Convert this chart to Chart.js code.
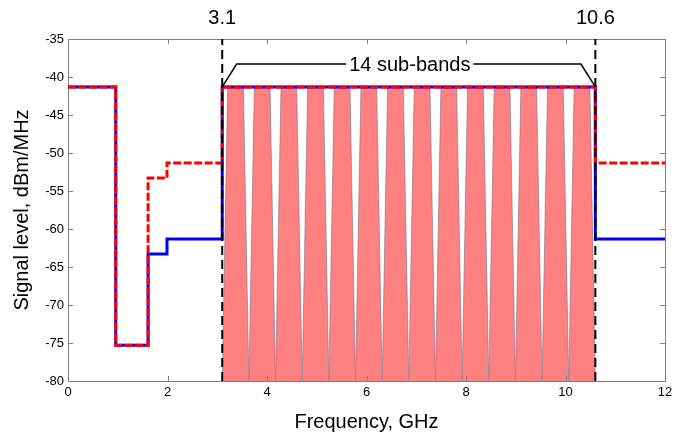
<!DOCTYPE html>
<html>
<head>
<meta charset="utf-8">
<script src="https://cdn.jsdelivr.net/npm/chart.js@4.4.1/dist/chart.umd.min.js"></script>
<style>
body { margin: 0; background: #fff; }
#wrap { width: 674px; height: 436px; }
</style>
</head>
<body>
<div id="wrap"><canvas id="uwbChart"></canvas></div>
<script>
// FCC UWB masks (dBm/MHz) - edges in GHz, one level per segment
var maskEdges = [0, 0.96, 1.61, 1.99, 3.1, 10.6, 12];
var outdoorLevels = [-41.3, -75.3, -63.3, -61.3, -41.3, -61.3];
var indoorLevels = [-41.3, -75.3, -53.3, -51.3, -41.3, -51.3];

// sub-bands between the two markers
var bandStart = 3.1;
var bandEnd = 10.6;
var bandCount = 14;
var bandTopLevel = -41.3;
var bandTopInset = 0.11;

// bracket over the sub-bands
var bracketX = [3.1, 3.39, 10.31, 10.6];
var bracketY = [-41.3, -38.3, -38.3, -41.3];
var bracketLabel = '14 sub-bands';
var bracketLabelX = 6.87;

var markerFreqs = [3.1, 10.6];
var markerLabels = ['3.1', '10.6'];

var xMin = 0, xMax = 12, xStep = 2;
var yMin = -80, yMax = -35, yStep = 5;

var fontFamily = "Arial, 'Liberation Sans', sans-serif";

function stepPoints(edges, levels) {
  var pts = [];
  for (var i = 0; i < levels.length; i++) {
    pts.push({x: edges[i], y: levels[i]});
  }
  pts.push({x: edges[edges.length - 1], y: levels[levels.length - 1]});
  return pts;
}

var datasets = [];

// pink sub-band trapezoids
var bandWidth = (bandEnd - bandStart) / bandCount;
for (var k = 0; k < bandCount; k++) {
  var x0 = bandStart + k * bandWidth;
  var x1 = x0 + bandWidth;
  datasets.push({
    data: [
      {x: x0, y: yMin},
      {x: x0 + bandTopInset, y: bandTopLevel},
      {x: x1 - bandTopInset, y: bandTopLevel},
      {x: x1, y: yMin}
    ],
    showLine: true,
    fill: 'start',
    backgroundColor: '#ff8080',
    borderColor: 'rgba(110,110,135,0.7)',
    borderWidth: 0.8,
    pointRadius: 0,
    order: 10
  });
}

datasets.push({
  label: 'Outdoor',
  data: stepPoints(maskEdges, outdoorLevels),
  showLine: true,
  stepped: true,
  borderColor: '#0000ff',
  borderWidth: 3,
  pointRadius: 0,
  fill: false,
  order: 5
});

datasets.push({
  label: 'Indoor',
  data: stepPoints(maskEdges, indoorLevels),
  showLine: true,
  stepped: true,
  borderColor: '#ff0000',
  borderWidth: 3,
  borderDash: [8, 2.5],
  pointRadius: 0,
  fill: false,
  order: 4
});

markerFreqs.forEach(function (f) {
  datasets.push({
    data: [{x: f, y: yMin}, {x: f, y: yMax}],
    showLine: true,
    borderColor: '#000',
    borderWidth: 2,
    borderDash: [9, 5],
    pointRadius: 0,
    fill: false,
    order: 2
  });
});

datasets.push({
  data: bracketX.map(function (v, i) { return {x: v, y: bracketY[i]}; }),
  showLine: true,
  borderColor: '#000',
  borderWidth: 1.5,
  pointRadius: 0,
  fill: false,
  order: 1
});

// matlab-like box, inward ticks and text annotations
var maskDecor = {
  id: 'maskDecor',
  beforeDatasetsDraw: function (chart) {
    var ctx = chart.ctx, a = chart.chartArea;
    ctx.save();
    ctx.strokeStyle = '#808080';
    ctx.lineWidth = 1;
    ctx.strokeRect(Math.round(a.left) + 0.5, Math.round(a.top) + 0.5,
      Math.round(a.right - a.left), Math.round(a.bottom - a.top));
    ctx.restore();
  },
  afterDatasetsDraw: function (chart) {
    var ctx = chart.ctx, a = chart.chartArea;
    var xs = chart.scales.x, ys = chart.scales.y;
    ctx.save();
    ctx.strokeStyle = '#808080';
    ctx.lineWidth = 1;
    ctx.beginPath();
    xs.ticks.forEach(function (t) {
      var px = Math.round(xs.getPixelForValue(t.value)) + 0.5;
      ctx.moveTo(px, a.bottom); ctx.lineTo(px, a.bottom - 5);
      ctx.moveTo(px, a.top); ctx.lineTo(px, a.top + 5);
    });
    ys.ticks.forEach(function (t) {
      var py = Math.round(ys.getPixelForValue(t.value)) + 0.5;
      ctx.moveTo(a.left, py); ctx.lineTo(a.left + 5, py);
      ctx.moveTo(a.right, py); ctx.lineTo(a.right - 5, py);
    });
    ctx.stroke();

    ctx.fillStyle = '#000';
    ctx.font = '20px ' + fontFamily;
    ctx.textAlign = 'center';
    ctx.textBaseline = 'middle';
    markerFreqs.forEach(function (f, i) {
      ctx.fillText(markerLabels[i], xs.getPixelForValue(f), a.top - 21);
    });

    var lx = xs.getPixelForValue(bracketLabelX);
    var ly = ys.getPixelForValue(bracketY[1]);
    var w = ctx.measureText(bracketLabel).width;
    ctx.fillStyle = '#fff';
    ctx.fillRect(lx - w / 2 - 3, ly - 10, w + 6, 20);
    ctx.fillStyle = '#000';
    ctx.fillText(bracketLabel, lx, ly + 1);
    ctx.restore();
  }
};

new Chart(document.getElementById('uwbChart').getContext('2d'), {
  type: 'scatter',
  data: { datasets: datasets },
  options: {
    responsive: true,
    maintainAspectRatio: false,
    animation: false,
    layout: { padding: { top: 39, right: 9, left: 0, bottom: 0 } },
    plugins: {
      legend: { display: false },
      tooltip: { enabled: false }
    },
    scales: {
      x: {
        type: 'linear',
        min: xMin, max: xMax,
        grid: { display: false, drawTicks: false },
        border: { display: false },
        ticks: { stepSize: xStep, padding: 4, color: '#000', font: { family: fontFamily, size: 13 } },
        title: { display: true, text: 'Frequency, GHz', color: '#000', font: { family: fontFamily, size: 20 }, padding: { top: 0, bottom: 2 } },
        afterFit: function (s) { s.height = 55; s.paddingLeft = 0; s.paddingRight = 0; }
      },
      y: {
        min: yMin, max: yMax,
        grid: { display: false, drawTicks: false },
        border: { display: false },
        ticks: { stepSize: yStep, padding: 4, color: '#000', font: { family: fontFamily, size: 13 } },
        title: { display: true, text: 'Signal level, dBm/MHz', color: '#000', font: { family: fontFamily, size: 20 }, padding: { top: 10, bottom: 0 } },
        afterFit: function (s) { s.width = 68; s.paddingTop = 0; s.paddingBottom = 0; }
      }
    }
  },
  plugins: [maskDecor]
});
</script>
</body>
</html>
